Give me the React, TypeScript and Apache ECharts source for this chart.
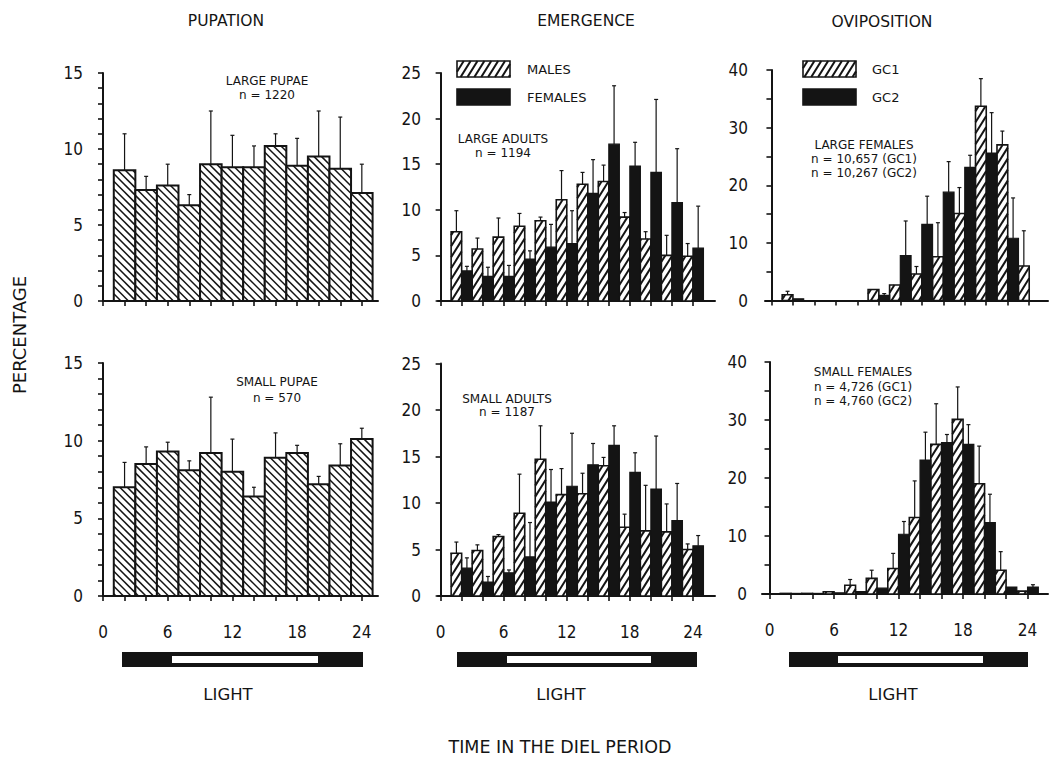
import React, { useEffect, useRef } from "react";
import * as echarts from "echarts";

// ---------- data ----------
const hours = [2, 4, 6, 8, 10, 12, 14, 16, 18, 20, 22, 24];
const xTickValues = [0, 2, 4, 6, 8, 10, 12, 14, 16, 18, 20, 22, 24];
const xLabelValues = [0, 6, 12, 18, 24];

const panelTitles = ["PUPATION", "EMERGENCE", "OVIPOSITION"];

const largePupae = [8.6, 7.3, 7.6, 6.3, 9.0, 8.8, 8.8, 10.2, 8.9, 9.5, 8.7, 7.1];
const largePupaeSD = [2.4, 0.9, 1.4, 0.7, 3.5, 2.1, 1.4, 0.8, 1.8, 3.0, 3.4, 1.9];
const smallPupae = [7.0, 8.5, 9.3, 8.1, 9.2, 8.0, 6.4, 8.9, 9.2, 7.2, 8.4, 10.1];
const smallPupaeSD = [1.6, 1.1, 0.6, 0.6, 3.6, 2.1, 0.6, 1.6, 0.5, 0.5, 1.4, 0.7];

const largeMales = [7.6, 5.7, 7.0, 8.2, 8.8, 11.1, 12.8, 13.1, 9.2, 6.8, 5.0, 4.9];
const largeMalesSD = [2.3, 1.2, 2.1, 1.4, 0.4, 3.2, 1.3, 1.8, 0.5, 0.8, 2.2, 1.4];
const largeFemales = [3.3, 2.7, 2.7, 4.6, 5.9, 6.3, 11.8, 17.2, 14.8, 14.1, 10.8, 5.8];
const largeFemalesSD = [0.5, 1.0, 1.2, 0.9, 2.5, 3.6, 3.7, 6.4, 2.6, 8.0, 5.9, 4.6];
const smallMales = [4.6, 4.9, 6.4, 8.9, 14.7, 10.9, 11.0, 14.0, 7.4, 7.0, 6.9, 5.0];
const smallMalesSD = [1.2, 0.6, 0.2, 4.2, 3.6, 2.8, 2.2, 0.9, 1.4, 4.9, 3.0, 0.6];
const smallFemales = [3.0, 1.5, 2.5, 4.2, 10.1, 11.8, 14.1, 16.2, 13.3, 11.5, 8.1, 5.4];
const smallFemalesSD = [1.1, 0.6, 0.3, 3.7, 3.5, 5.7, 2.3, 2.1, 2.1, 5.7, 4.0, 1.1];

const largeGC1 = [1.0, 0, 0, 0, 1.9, 2.7, 4.6, 7.6, 15.1, 33.7, 27.0, 6.0];
const largeGC1SD = [0.6, 0, 0, 0, 0, 0, 1.3, 5.9, 4.5, 4.8, 2.4, 6.1];
const largeGC2 = [0.3, 0, 0, 0, 0.9, 7.8, 13.2, 18.8, 23.1, 25.6, 10.8, 0];
const largeGC2SD = [0, 0, 0, 0, 0.3, 6.0, 4.9, 5.3, 2.1, 7.0, 7.0, 0];
const smallGC1 = [0.1, 0.1, 0.4, 1.5, 2.7, 4.4, 13.2, 25.8, 30.1, 19.0, 4.1, 0.5];
const smallGC1SD = [0, 0, 0, 1.0, 1.4, 2.6, 6.3, 7.0, 5.6, 6.5, 3.2, 0];
const smallGC2 = [0.1, 0.1, 0.2, 0.4, 1.0, 10.3, 23.1, 26.1, 25.8, 12.3, 1.2, 1.2];
const smallGC2SD = [0, 0, 0, 0, 0, 2.2, 4.8, 1.4, 3.4, 4.9, 0, 0.4];

// ---------- style helpers ----------
const INK = "#141414";
const SANS = '"DejaVu Sans", "Liberation Sans", sans-serif';
const NARROW = '"Liberation Sans Narrow", "DejaVu Sans Condensed", "Liberation Sans", sans-serif';

type Dir = "fwd" | "back";
function hatchLines(x0: number, y0: number, x1: number, y1: number, dir: Dir, step: number, s: number) {
  const segs: number[][] = [];
  if (dir === "fwd") {
    const cMin = y0 + s * x0, cMax = y1 + s * x1;
    for (let c = Math.ceil(cMin / step) * step; c <= cMax; c += step) {
      const xa = Math.max(x0, (c - y1) / s), xb = Math.min(x1, (c - y0) / s);
      if (xb - xa > 0.3) segs.push([xa, c - s * xa, xb, c - s * xb]);
    }
  } else {
    const cMin = y0 - s * x1, cMax = y1 - s * x0;
    for (let c = Math.ceil(cMin / step) * step; c <= cMax; c += step) {
      const xa = Math.max(x0, (y0 - c) / s), xb = Math.min(x1, (y1 - c) / s);
      if (xb - xa > 0.3) segs.push([xa, c + s * xa, xb, c + s * xb]);
    }
  }
  return segs;
}

type Kind = "back" | "fwd" | "solid";
const hatchCfg: Record<string, { step: number; s: number; lw: number }> = {
  back: { step: 7.5, s: 1, lw: 1.5 },
  fwd: { step: 11, s: 1.6, lw: 2 },
};

function barSeries(panel: number, vals: number[], sds: number[], offset: number, widthH: number, kind: Kind, outline: number) {
  return {
    type: "custom",
    xAxisIndex: panel,
    yAxisIndex: panel,
    data: hours.map((h, i) => [h + offset, vals[i], sds[i]]),
    encode: { x: 0, y: 1 },
    renderItem: (_params: any, api: any) => {
      const x = api.value(0), v = api.value(1), sd = api.value(2);
      const children: any[] = [];
      let topY = api.coord([x, 0])[1];
      if (v > 0) {
        const tl = api.coord([x - widthH / 2, v]);
        const br = api.coord([x + widthH / 2, 0]);
        const rx = tl[0], ry = tl[1], rw = br[0] - tl[0], rh = br[1] - tl[1];
        topY = ry;
        children.push({
          type: "rect",
          shape: { x: rx, y: ry, width: rw, height: rh },
          style: { fill: kind === "solid" ? INK : "#fff", stroke: INK, lineWidth: outline },
        });
        if (kind !== "solid") {
          const cfg = hatchCfg[kind];
          hatchLines(rx, ry, rx + rw, ry + rh, kind, cfg.step, cfg.s).forEach((sg) =>
            children.push({
              type: "line",
              shape: { x1: sg[0], y1: sg[1], x2: sg[2], y2: sg[3] },
              style: { stroke: INK, lineWidth: cfg.lw },
            })
          );
        }
      }
      if (sd > 0) {
        const cx = api.coord([x, v])[0];
        const ty = api.coord([x, v + sd])[1];
        children.push({
          type: "line",
          shape: { x1: cx, y1: topY, x2: cx, y2: ty },
          style: { stroke: INK, lineWidth: 1.2 },
        });
        children.push({
          type: "line",
          shape: { x1: cx - 2, y1: ty, x2: cx + 2, y2: ty },
          style: { stroke: INK, lineWidth: 1.2 },
        });
      }
      return { type: "group", children };
    },
    z: kind === "solid" ? 3 : 2,
  };
}

const panels = [
  { left: 103, top: 73, width: 275, height: 228, xMin: 0, xMax: 25.5, yMax: 15, yStep: 1, yLabelStep: 5, margin: 20, showX: false },
  { left: 438, top: 73, width: 277, height: 228, xMin: -0.25, xMax: 26.1, yMax: 25, yStep: 5, yLabelStep: 5, margin: 17, showX: false },
  { left: 765, top: 70, width: 283, height: 230.5, xMin: -0.6, xMax: 25.75, yMax: 40, yStep: 5, yLabelStep: 10, margin: 17, showX: false },
  { left: 103, top: 363, width: 275, height: 233, xMin: 0, xMax: 25.5, yMax: 15, yStep: 1, yLabelStep: 5, margin: 20, showX: true },
  { left: 438, top: 363.5, width: 277, height: 232.5, xMin: -0.25, xMax: 26.1, yMax: 25, yStep: 5, yLabelStep: 5, margin: 17, showX: true },
  { left: 762, top: 362, width: 286, height: 232, xMin: -0.7, xMax: 25.9, yMax: 40, yStep: 5, yLabelStep: 10, margin: 15, showX: true },
];

function text(str: string, x: number, y: number, size: number, family = SANS, extra: any = {}) {
  return {
    type: "text",
    x,
    y,
    ...extra,
    style: {
      text: str,
      fill: INK,
      font: `${size}px ${family}`,
      textAlign: "center",
      textVerticalAlign: "middle",
    },
  };
}

function legendBox(x: number, y: number, w: number, h: number, solid: boolean) {
  const els: any[] = [
    { type: "rect", shape: { x, y, width: w, height: h }, style: { fill: solid ? INK : "#fff", stroke: INK, lineWidth: 1.6 } },
  ];
  if (!solid) {
    hatchLines(x, y, x + w, y + h, "fwd", 11, 1.6).forEach((sg) =>
      els.push({ type: "line", shape: { x1: sg[0], y1: sg[1], x2: sg[2], y2: sg[3] }, style: { stroke: INK, lineWidth: 2 } })
    );
  }
  return els;
}

function leftText(str: string, x: number, y: number, size: number) {
  return {
    type: "text",
    x,
    y,
    style: { text: str, fill: INK, font: `${size}px ${SANS}`, textAlign: "left", textVerticalAlign: "middle" },
  };
}

function buildOption() {
  const grid = panels.map((p) => ({
    left: p.left,
    top: p.top,
    width: p.width,
    height: p.height,
    containLabel: false,
    outerBoundsMode: "none",
  }));
  const xAxis = panels.map((p, i) => ({
    type: "value",
    gridIndex: i,
    min: p.xMin,
    max: p.xMax,
    splitLine: { show: false },
    axisLine: { show: true, onZero: false, lineStyle: { color: INK, width: 2 } },
    axisTick: { show: true, length: 5, customValues: xTickValues, lineStyle: { color: INK, width: 1.6 } },
    axisLabel: {
      show: p.showX,
      customValues: xLabelValues,
      margin: 27,
      color: INK,
      fontSize: 17,
      fontFamily: NARROW,
    },
  }));
  const yAxis = panels.map((p, i) => ({
    type: "value",
    gridIndex: i,
    min: 0,
    max: p.yMax,
    interval: p.yStep,
    splitLine: { show: false },
    axisLine: { show: true, lineStyle: { color: INK, width: 2 } },
    axisTick: { show: true, length: 5, lineStyle: { color: INK, width: 1.6 } },
    axisLabel: {
      margin: p.margin,
      color: INK,
      fontSize: 17,
      fontFamily: NARROW,
      formatter: (v: number) => (Math.round(v) % p.yLabelStep === 0 ? String(Math.round(v)) : ""),
    },
  }));

  const series = [
    barSeries(0, largePupae, largePupaeSD, 0, 2, "back", 2),
    barSeries(3, smallPupae, smallPupaeSD, 0, 2, "back", 2),
    barSeries(1, largeMales, largeMalesSD, -0.5, 1.0, "fwd", 1.6),
    barSeries(1, largeFemales, largeFemalesSD, 0.5, 1.0, "solid", 1.2),
    barSeries(4, smallMales, smallMalesSD, -0.5, 1.0, "fwd", 1.6),
    barSeries(4, smallFemales, smallFemalesSD, 0.5, 1.0, "solid", 1.2),
    barSeries(2, largeGC1, largeGC1SD, -0.5, 1.0, "fwd", 1.6),
    barSeries(2, largeGC2, largeGC2SD, 0.5, 1.0, "solid", 1.2),
    barSeries(5, smallGC1, smallGC1SD, -0.5, 1.0, "fwd", 1.6),
    barSeries(5, smallGC2, smallGC2SD, 0.5, 1.0, "solid", 1.2),
  ];

  const graphic: any[] = [
    text(panelTitles[0], 226, 21, 15.5),
    text(panelTitles[1], 586, 21, 15.5),
    text(panelTitles[2], 882, 22, 15.5),
    text("PERCENTAGE", 19, 335, 18, SANS, { rotation: Math.PI / 2 }),
    text("TIME IN THE DIEL PERIOD", 560, 747, 17.5),
    // annotations
    text("LARGE PUPAE", 267, 81, 12),
    text("n = 1220", 267, 95, 12),
    text("LARGE ADULTS", 503, 139, 12),
    text("n = 1194", 503, 153, 12),
    text("LARGE FEMALES", 864, 145, 12),
    text("n = 10,657 (GC1)", 864, 159, 12),
    text("n = 10,267 (GC2)", 864, 173, 12),
    text("SMALL PUPAE", 277, 382, 12),
    text("n = 570", 277, 398, 12),
    text("SMALL ADULTS", 507, 399, 12),
    text("n = 1187", 507, 412, 12),
    text("SMALL FEMALES", 863, 372, 12),
    text("n = 4,726 (GC1)", 863, 387, 12),
    text("n = 4,760 (GC2)", 863, 401, 12),
    // legends
    ...legendBox(457, 61, 53, 16, false),
    ...legendBox(457, 89, 53, 16, true),
    leftText("MALES", 527, 69, 13),
    leftText("FEMALES", 527, 97, 13),
    ...legendBox(803, 61, 53, 16, false),
    ...legendBox(803, 89, 53, 16, true),
    leftText("GC1", 872, 69, 13),
    leftText("GC2", 872, 97, 13),
  ];

  const lightBars = [
    { x0: 122, x1: 363, w0: 172, w1: 318, cx: 228 },
    { x0: 457, x1: 697, w0: 507, w1: 651, cx: 561 },
    { x0: 789, x1: 1028, w0: 838, w1: 983, cx: 893 },
  ];
  lightBars.forEach((b) => {
    graphic.push({ type: "rect", shape: { x: b.x0, y: 652, width: b.x1 - b.x0, height: 15 }, style: { fill: INK } });
    graphic.push({ type: "rect", shape: { x: b.w0, y: 656, width: b.w1 - b.w0, height: 7 }, style: { fill: "#fff" } });
    graphic.push(text("LIGHT", b.cx, 694, 16.5));
  });

  return {
    animation: false,
    backgroundColor: "#fff",
    grid,
    xAxis,
    yAxis,
    series,
    graphic,
  };
}

export default function App() {
  const ref = useRef<HTMLDivElement>(null);
  useEffect(() => {
    const chart = echarts.init(ref.current!, null, { renderer: "svg" });
    chart.setOption(buildOption() as any);
    return () => chart.dispose();
  }, []);
  return (
    <div
      ref={ref}
      style={{ position: "absolute", left: 0, top: 0, width: 1049, height: 759, background: "#fff" }}
    />
  );
}
